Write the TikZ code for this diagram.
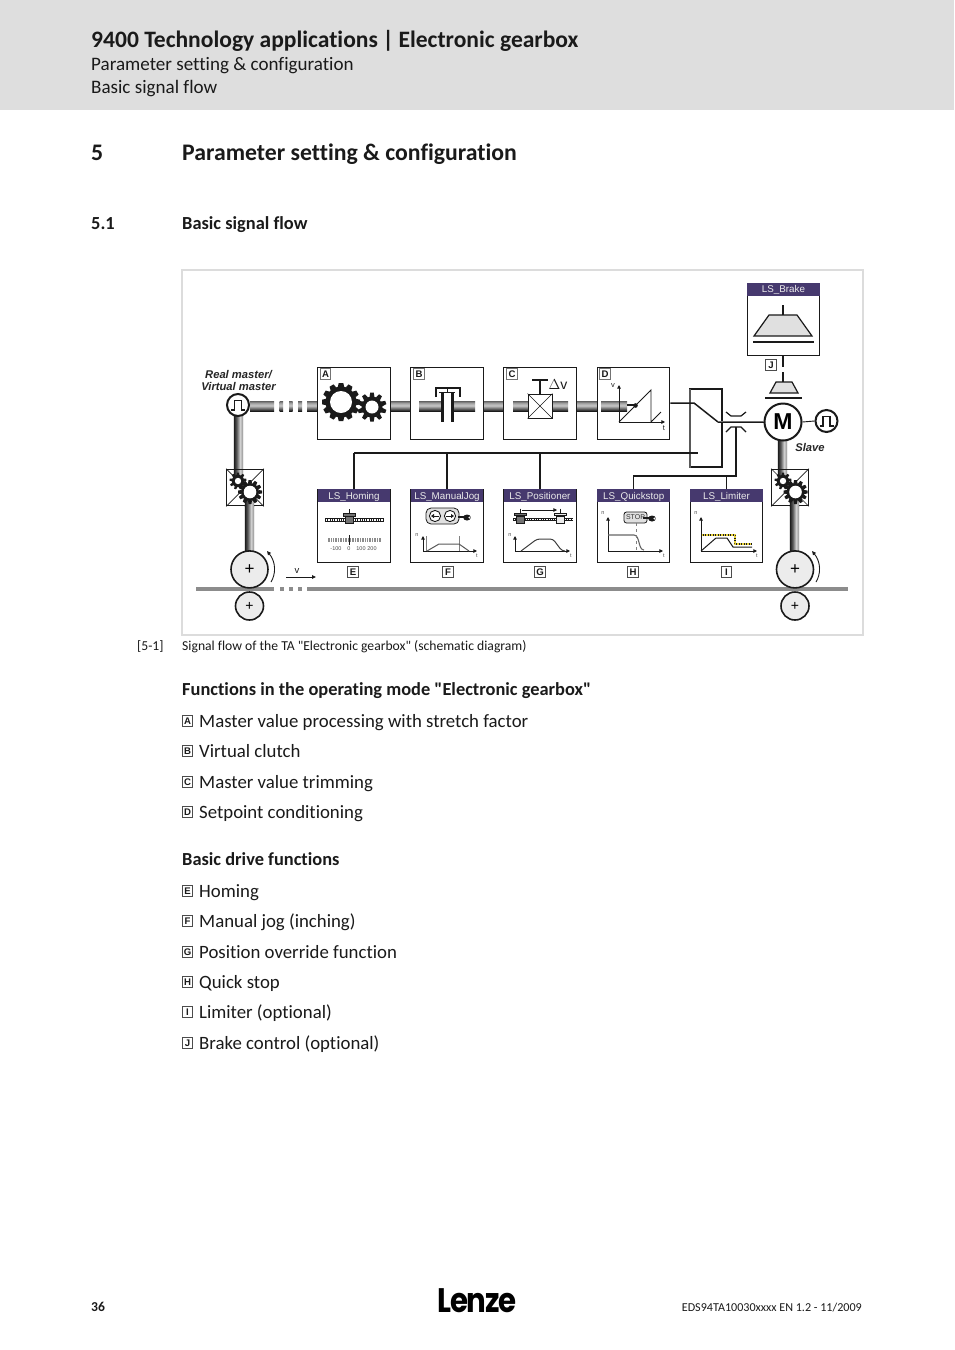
\documentclass[tikz,border=0pt]{standalone}
\usepackage{fontspec}
\setmainfont[Ligatures={TeXOff,NoCommon}]{Carlito}
\newfontfamily\arialf{Liberation Sans}
\newfontfamily\logof{Poppins}
\usetikzlibrary{arrows.meta,calc}
\definecolor{hdrgray}{HTML}{DEDEDE}
\definecolor{framegray}{HTML}{DCDCDC}
\definecolor{lspurple}{HTML}{46396E}
\definecolor{barline}{HTML}{8C8C8C}
\definecolor{rollerfill}{HTML}{ECECEC}
\definecolor{ink}{HTML}{1A1A1A}
\definecolor{limityellow}{HTML}{E8D23A}
\newcommand{\fs}[1]{\fontsize{#1}{#1}\selectfont}
\pgfdeclareverticalshading{hpipeshade}{100bp}{color(0bp)=(black!90); color(25bp)=(black!90); color(36bp)=(black!62); color(52bp)=(black!22); color(64bp)=(black!35); color(75bp)=(black!62); color(100bp)=(black!62)}
\pgfdeclarehorizontalshading{vpipeshade}{100bp}{color(0bp)=(black!90); color(25bp)=(black!90); color(40bp)=(black!65); color(58bp)=(black!18); color(68bp)=(black!32); color(75bp)=(black!58); color(100bp)=(black!58)}
\tikzset{
  bodytext/.style={anchor=base west,inner sep=0pt,text=ink,font=\fs{18.8}},
  headtext/.style={anchor=base west,inner sep=0pt,text=ink,font=\fs{18.4}\bfseries},
  fnbox/.style={draw=ink,line width=1pt,fill=white,minimum width=72.5pt,minimum height=72.5pt,inner sep=0pt},
  lstitle/.style={fill=lspurple,text=white!92!black,minimum width=72.5pt,minimum height=13pt,inner sep=0pt,text height=7pt,text depth=0pt,font=\arialf\fs{9.8}},
  tagbox/.style={draw=black!70,line width=.7pt,fill=white,minimum width=10.5pt,minimum height=10.5pt,inner sep=0pt,font=\arialf\bfseries\fs{9.6},text=ink},
  sig/.style={draw=ink,line width=1.5pt},
  wheel/.style={circle,draw=ink,line width=1.6pt,fill=rollerfill,inner sep=0pt},
  axis/.style={draw=ink,line width=1pt,-{Triangle[length=3.6pt,width=3.6pt]}},
  tiny/.style={inner sep=0pt,font=\arialf\fs{5.5},text=black!70},
  gearbox/.style={draw=ink,line width=1.2pt,fill=white,minimum width=36.5pt,minimum height=36.5pt,inner sep=0pt},
  figlabel/.style={inner sep=0pt,font=\arialf\bfseries\itshape\fs{11.2},text=black!85},
}
\newcommand{\hpipe}[3]{\shade[shading=hpipeshade] (#1,#3-5) rectangle (#2,#3+5);}
\newcommand{\vpipe}[3]{\shade[shading=vpipeshade] (#1-4.7,#2) rectangle (#1+4.7,#3);}
\newcommand{\gearshape}[6]{%
  \fill[ink] (#1,#2) circle[radius=#4];
  \foreach \k in {1,...,#5}{\fill[ink,shift={(#1,#2)},rotate=\k*360/#5] (-#3*0.17,-#4+0.5) -- (-#3*0.12,-#3) -- (#3*0.12,-#3) -- (#3*0.17,-#4+0.5) -- cycle;}
  \fill[white] (#1,#2) circle[radius=#6];}
\newcommand{\railshape}[3]{%
  \draw[line width=3.4pt,ink] (#1,#3) -- (#2,#3);
  \draw[line width=1.6pt,white,dash pattern=on 1.3pt off 1pt] (#1+1,#3) -- (#2-1,#3);}
\newcommand{\slidershape}[3]{%
  \draw[line width=1pt,ink] (#1,#2-11) -- (#1,#2-6);
  \fill[#3,draw=ink,line width=.6pt] (#1-3.8,#2-3.5) rectangle (#1+3.8,#2+3.5);
  \fill[#3,draw=ink,line width=.6pt] (#1-6,#2-6.5) rectangle (#1+6,#2-4);}
\newcommand{\handshape}[2]{%
  \draw[line width=2pt,ink] (#1-9,#2) -- (#1-2,#2);
  \fill[ink] (#1,#2+.5) ellipse[x radius=3.8,y radius=3];
  \fill[white] (#1+2.4,#2+.5) circle[radius=1.1];}
\begin{document}
\begin{tikzpicture}[x=1pt,y=-1pt]
\useasboundingbox (0,0) rectangle (954,1350);
\fill[white] (0,0) rectangle (954,1350);
\fill[hdrgray] (0,0) rectangle (954,110);
% page text
\node[headtext,font=\fs{23.55}\bfseries] (title) at (91,47) {9400 Technology applications\hspace{.2em}|\hspace{.2em}Electronic gearbox};
\node[bodytext,font=\fs{19.05}] (sub1) at (91,70) {Parameter setting \& configuration};
\node[bodytext,font=\fs{19.05}] (sub2) at (91,93) {Basic signal flow};
\node[headtext,font=\fs{23.75}\bfseries] (secnum) at (91,160) {5};
\node[headtext,font=\fs{23.75}\bfseries] (sectitle) at (182,160) {Parameter setting \& configuration};
\node[headtext] (subnum) at (91,229) {5.1};
\node[headtext] (subtitle) at (182,229) {Basic signal flow};
% frame
\node[draw=framegray,line width=2pt,minimum width=681pt,minimum height=365pt,inner sep=0pt] (frame) at (522.5,452.5) {};
% pipes top
\hpipe{250}{274}{406}
\hpipe{279.5}{283}{406}\hpipe{289}{292.5}{406}\hpipe{298}{302}{406}\hpipe{307}{317}{406}
\hpipe{391}{410}{406}\hpipe{484}{503}{406}\hpipe{577}{597}{406}
\vpipe{238.5}{415}{480}
\vpipe{249.5}{498}{552}
\vpipe{782.5}{440}{480}
\vpipe{794.5}{498}{552}
% bar
\draw[barline,line width=3.4pt] (196,589) -- (274,589);
\draw[barline,line width=3.4pt,dash pattern=on 3.5pt off 5.5pt] (280,589) -- (303,589);
\draw[barline,line width=3.4pt] (307,589) -- (848,589);
% function boxes
\node[fnbox] (boxA) at (354,403.5) {};
\node[fnbox] (boxB) at (447,403.5) {};
\node[fnbox] (boxC) at (540,403.5) {};
\node[fnbox] (boxD) at (633.7,403.5) {};
\node[tagbox,draw=black!55] (tagA) at (325.5,374) {A};
\node[tagbox,draw=black!55] (tagB) at (419,374) {B};
\node[tagbox,draw=black!55] (tagC) at (512,374) {C};
\node[tagbox,draw=black!55] (tagD) at (605,374) {D};
% A
\gearshape{341}{402}{19}{15.5}{12}{11}
\gearshape{372}{407}{14.5}{10.5}{10}{6.5}
% B
\hpipe{419}{441}{406}
\hpipe{453}{475}{406}
\fill[ink] (441,392) rectangle (444,422);
\fill[ink] (451,392) rectangle (453.5,422);
\draw[line width=1pt,ink] (439,392) -- (455,392);
\draw[line width=1pt,ink] (447.5,388) -- (447.5,392);
\draw[line width=1.8pt,ink] (435.8,397) -- (435.8,388) -- (459.8,388) -- (459.8,397);
% C
\hpipe{513}{568}{406}
\node[draw=ink,line width=.9pt,fill=white,minimum width=24pt,minimum height=24pt,inner sep=0pt] (valve) at (540,406) {};
\draw[ink,line width=.6pt] (valve.north west) -- (valve.south east) (valve.north east) -- (valve.south west);
\coordinate (valvetop) at (540,380);
\draw[line width=1.5pt,ink] (valve.north) -- (valvetop);
\draw[line width=1.5pt,ink] (532,380) -- (548,380);
\node[inner sep=0pt,font=\arialf\fs{14},text=ink] (dv) at (558,385) {$\Delta$v};
% D
\hpipe{601}{627}{406}
\draw[axis] (619,422) -- (619,385);
\draw[axis] (619,422) -- (665,422);
\draw[ink,line width=.9pt] (619,422) -- (651,390) -- (651,422) -- (661,412);
\draw[ink,line width=1.4pt] (627,405) -- (635,405);
\fill[ink] (635.5,405.5) circle[radius=2.3];
\node[tiny,font=\arialf\fs{7.5},text=ink] (dv2) at (613,386) {v};
\node[tiny,font=\arialf\fs{7.5},text=ink] (dt2) at (664,428) {t};
% output and switch box
\node[draw=ink,line width=1.5pt,fill=white,minimum width=32pt,minimum height=78pt,inner sep=0pt] (gate) at (706,428) {};
\draw[black!65,line width=1.6pt] (690,388.5) -- (690,467.5);
\coordinate (busL) at (354,453);
\coordinate (busR) at (698,453);
\draw[sig] (busL) -- (busR);
\coordinate (swA) at (694,403);
\coordinate (swB) at (718,422);
\draw[sig] (boxD.east |- swA) -- (swA) -- (swB);
% M
\node[circle,draw=ink,line width=2pt,fill=white,minimum size=37pt,inner sep=0pt,font=\arialf\bfseries\fs{23}] (motor) at (783,422) {M};
\draw[black!55,line width=1.2pt] (swB) -- (motor.west);
\draw[ink,line width=.3pt] (swB) -- (motor.west);
% clutch
\draw[ink,line width=1.2pt] (726,412) -- (731,416) -- (741,416) -- (746,412);
\draw[ink,line width=1.2pt] (726,432) -- (731,427) -- (741,427) -- (746,432);
\coordinate (clutchlow) at (736,427);
\coordinate (stopbend) at (736,476);
% lower boxes
\node[fnbox] (homing) at (354,525.8) {};
\node[fnbox] (manual) at (447,525.8) {};
\node[fnbox] (posit) at (540,525.8) {};
\node[fnbox] (quick) at (633.7,525.8) {};
\node[fnbox] (limit) at (726.5,525.8) {};
\node[lstitle,anchor=north] (tH) at (homing.north) {LS\_Homing};
\node[lstitle,anchor=north] (tM) at (manual.north) {LS\_ManualJog};
\node[lstitle,anchor=north] (tP) at (posit.north) {LS\_Positioner};
\node[lstitle,anchor=north] (tQ) at (quick.north) {LS\_Quickstop};
\node[lstitle,anchor=north] (tL) at (limit.north) {LS\_Limiter};
\draw[sig] (homing.north) -- (homing.north |- busL);
\draw[sig] (manual.north) -- (manual.north |- busL);
\draw[sig] (posit.north) -- (posit.north |- busL);
\draw[sig] (clutchlow) -- (stopbend) -| (quick.north);
\draw[ink,line width=.8pt] (limit.north) -- (limit.north |- stopbend);
% tags below
\node[tagbox] (tagE) at (353,572) {E};
\node[tagbox] (tagF) at (448,572) {F};
\node[tagbox] (tagG) at (540,572) {G};
\node[tagbox] (tagH) at (633,572) {H};
\node[tagbox] (tagI) at (726.5,572) {I};
% homing content
\railshape{325}{384}{520}
\slidershape{349}{520}{black!55}
\foreach \x in {328,329.7,...,382}{\draw[black!45,line width=.45pt] (\x,538) -- (\x,542);}
\draw[ink,line width=.7pt] (349,535) -- (349,545);
\node[tiny] (n1) at (336,549) {-100};
\node[tiny] (n2) at (349,549) {0};
\node[tiny] (n3) at (361,549) {100};
\node[tiny] (n4) at (372,549) {200};
% manual jog content
\fill[black!12,draw=ink,line width=.8pt,rounded corners=5pt] (426,508) rectangle (459,524);
\foreach \cx in {435,450}{\draw[fill=white,draw=ink,line width=.9pt] (\cx,516) circle[radius=5.6];}
\draw[ink,line width=1pt,-{Triangle[length=3pt,width=4pt]}] (439,516) -- (431,516);
\draw[ink,line width=1pt,-{Triangle[length=3pt,width=4pt]}] (446,516) -- (454,516);
\handshape{467}{517}
\draw[black!50,line width=.5pt] (426,536) -- (426,551) (459,536) -- (459,551);
\draw[axis] (423,551) -- (423,536);
\draw[axis] (423,551) -- (477,551);
\draw[black!65,line width=1pt] (427,551) -- (439,544) -- (459,544) -- (469,551);
\node[tiny] (nM) at (417,535) {n};
\node[tiny] (tMt) at (477,555.5) {t};
% positioner content
\railshape{513}{573}{519.5}
\slidershape{520}{519.5}{black!55}
\slidershape{560.5}{519.5}{black!8}
\draw[ink,line width=.8pt,-{Triangle[length=3.6pt,width=3.6pt]}] (522,510) -- (557,510);
\draw[axis] (515,551) -- (515,536);
\draw[axis] (515,551) -- (570,551);
\draw[black!75,line width=1pt,rounded corners=3pt] (521,551) -- (537,539) -- (553,539) -- (562,551) -- (565,551);
\node[tiny] (nP) at (510,535) {n};
\node[tiny] (tPt) at (571,555.5) {t};
% quickstop content
\node[draw=ink,fill=black!12,line width=.8pt,rounded corners=2.5pt,minimum width=23pt,minimum height=11pt,inner sep=0pt,font=\arialf\fs{7},text=black!80] (stopkey) at (635.5,517.5) {STOP};
\handshape{652}{518}
\draw[axis] (608,551) -- (608,517);
\draw[axis] (608,551) -- (663,551);
\draw[black!60,line width=1.1pt] (608,535) -- (634,535) .. controls (640,535) and (638,550) .. (644,550);
\draw[black!50,line width=.5pt,dashed] (636,523) -- (636,550);
\node[tiny] (nQ) at (603,513) {n};
\node[tiny] (tQt) at (664,555.5) {t};
% limiter content
\draw[ink,line width=2pt] (701,535) -- (735,535) -- (735,544) -- (752,544);
\draw[limityellow,line width=1.5pt,dash pattern=on 1.5pt off 1pt] (701,535) -- (735,535) -- (735,544) -- (752,544);
\draw[ink,line width=1pt] (701,551) -- (716,538) -- (727,538) -- (733,547) -- (752,547);
\draw[axis] (701,551) -- (701,517);
\draw[axis] (701,551) -- (757,551);
\node[tiny] (nL) at (696,513) {n};
\node[tiny] (tLt) at (757,555.5) {t};
% brake
\node[fnbox] (brake) at (783.5,319.5) {};
\node[lstitle,anchor=north] (tB) at (brake.north) {LS\_Brake};
\draw[ink,line width=1.2pt] (783,305) -- (783,315);
\fill[black!12,draw=ink,line width=1.2pt] (754,336) -- (769,315) -- (797,315) -- (812,336) -- cycle;
\draw[ink,line width=1.6pt] (753,342) -- (814,342);
\node[tagbox] (tagJ) at (771,365) {J};
\coordinate (brakelow) at (783,382);
\draw[ink,line width=1.2pt] (brake.south -| brakelow) -- (783,367);
\draw[ink,line width=1.2pt] (783,372) -- (brakelow);
\fill[black!12,draw=ink,line width=1.2pt] (770,393) -- (776,382) -- (792,382) -- (798,393) -- cycle;
\draw[ink,line width=1.6pt] (765,398) -- (802,398);
% encoders
\node[circle,draw=ink,line width=2pt,fill=white,minimum size=22pt,inner sep=0pt] (encM) at (238,405) {};
\draw[ink,line width=1.5pt] (231,410) -- (234.5,410) -- (234.5,400.5) -- (241.5,400.5) -- (241.5,410) -- (245,410);
\node[circle,draw=ink,line width=2pt,fill=white,minimum size=22pt,inner sep=0pt] (encS) at (826.5,421) {};
\draw[ink,line width=1.5pt] (819.5,426) -- (823,426) -- (823,416.5) -- (830,416.5) -- (830,426) -- (833.5,426);
\draw[ink,line width=.9pt] (motor.east) -- (encS.west);
\node[figlabel] (lab1) at (238.5,374.5) {Real master/};
\node[figlabel] (lab2) at (238.5,386.5) {Virtual master};
\node[figlabel] (lab3) at (810,447.3) {Slave};
% left gearbox
\node[gearbox] (gbL) at (245,487.5) {};
\draw[ink,line width=.7pt] (gbL.north west) -- (gbL.south east) (gbL.north east) -- (gbL.south west);
\vpipe{238.5}{470}{478}
\vpipe{249.5}{497}{506}
\gearshape{238}{481}{8.5}{6.2}{9}{3.2}
\gearshape{250}{492}{12}{9}{12}{6.3}
% right gearbox
\node[gearbox] (gbR) at (790,487.5) {};
\draw[ink,line width=.7pt] (gbR.north west) -- (gbR.south east) (gbR.north east) -- (gbR.south west);
\vpipe{782.5}{470}{478}
\vpipe{794.5}{497}{506}
\gearshape{783}{481}{8.5}{6.2}{9}{3.2}
\gearshape{795.5}{492}{12}{9}{12}{6.3}
% wheels
\node[wheel,minimum size=37pt,font=\arialf\fs{17}] (rollL) at (249.5,569.4) {+};
\node[wheel,minimum size=28pt,font=\arialf\fs{14}] (rollLb) at (249.5,606) {+};
\node[wheel,minimum size=37pt,font=\arialf\fs{17}] (rollR) at (795,569.4) {+};
\node[wheel,minimum size=28pt,font=\arialf\fs{14}] (rollRb) at (795,606) {+};
\draw[ink,line width=.9pt,-{Triangle[length=4pt,width=3.6pt]}] (271,582) .. controls (276,574) and (276,562) .. (267,551);
\draw[ink,line width=.9pt,-{Triangle[length=4pt,width=3.6pt]}] (816,582) .. controls (821,574) and (821,562) .. (812,551);
\coordinate (vstart) at (286,577);
\coordinate (vend) at (316,577);
\draw[ink,line width=.9pt,-{Triangle[length=4pt,width=3.6pt]}] (vstart) -- (vend);
\node[inner sep=0pt,font=\arialf\fs{9.5},text=ink] (vlab) at (297,571) {v};
% caption
\node[bodytext,font=\fs{13.65}] (capn) at (137,650) {[5-1]};
\node[bodytext,font=\fs{13.65}] (cap) at (182,650) {Signal flow of the TA "Electronic gearbox" (schematic diagram)};
% lists
\node[headtext] (h1) at (182,695) {Functions in the operating mode "Electronic gearbox"};
\foreach \lt/\ty/\tx/\nm in {A/727/Master value processing with stretch factor/la,B/757/Virtual clutch/lb,C/788/Master value trimming/lc,D/818/Setpoint conditioning/ld,E/897/Homing/le,F/927/Manual jog (inching)/lf,G/958/Position override function/lg,H/988/Quick stop/lh,I/1018/Limiter (optional)/li,J/1049/Brake control (optional)/lj}{
  \node[tagbox] (\nm t) at (187.5,\ty-6) {\lt};
  \node[bodytext] (\nm) at (199,\ty) {\tx};
}
\node[headtext] (h2) at (182,865) {Basic drive functions};
% footer
\node[headtext,font=\fs{13.6}\bfseries] (pg) at (91,1311) {36};
\node[inner sep=0pt,anchor=base,font=\logof\bfseries\fs{34},text=black] (logo) at (477,1312) {\scalebox{.86}[1]{\addfontfeature{LetterSpace=-4}Lenze}};
\node[bodytext,anchor=base east,font=\fs{12.1}] (doc) at (862,1311) {EDS94TA10030xxxx EN 1.2 - 11/2009};
\end{tikzpicture}
\end{document}
